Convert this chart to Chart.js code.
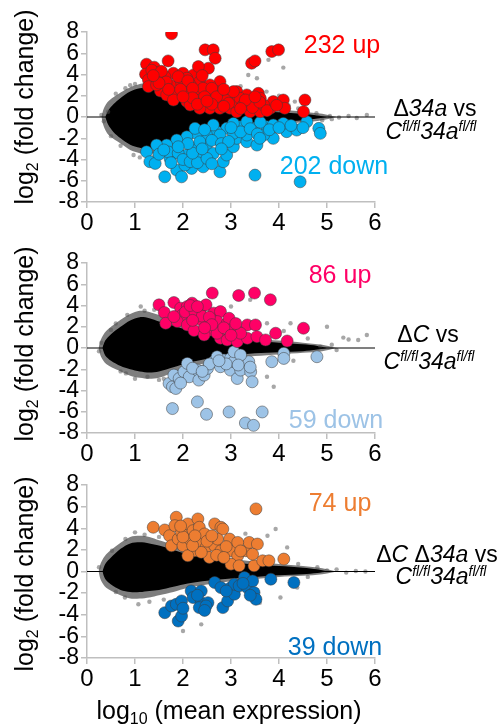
<!DOCTYPE html>
<html>
<head>
<meta charset="utf-8">
<script src="https://cdn.jsdelivr.net/npm/chart.js@4.4.1/dist/chart.umd.min.js"></script>
<style>
  html, body { margin: 0; padding: 0; background: #fff; }
  body { width: 502px; height: 727px; position: relative; overflow: hidden;
         font-family: "Liberation Sans", Arial, sans-serif; color: #000; }
  .panel { position: absolute; left: 0; width: 502px; }
  .lbl { position: absolute; transform: translate(-50%, -50%); white-space: nowrap; line-height: 1; }
  .ytitle { position: absolute; left: 24px; transform: translate(-50%, -50%) rotate(-90deg);
            white-space: nowrap; font-size: 25px; line-height: 1; }
  .count { font-size: 25px; }
  .cmp { font-size: 23px; }
  .cmp sup { font-size: 14px; position: relative; top: -1px; vertical-align: top; }
  sub { font-size: 16px; vertical-align: -5px; line-height: 0; }
</style>
</head>
<body>
<div class="panel" style="top:0;height:240px"><canvas id="c1" width="502" height="240"></canvas></div>
<div class="panel" style="top:231px;height:240px"><canvas id="c2" width="502" height="240"></canvas></div>
<div class="panel" style="top:453px;height:274px"><canvas id="c3" width="502" height="274"></canvas></div>

<div class="ytitle" style="top:107px">log<sub>2</sub> (fold change)</div>
<div class="ytitle" style="top:344px">log<sub>2</sub> (fold change)</div>
<div class="ytitle" style="top:574px">log<sub>2</sub> (fold change)</div>
<div class="lbl" style="left:229px;top:710px;font-size:25px">log<sub>10</sub> (mean expression)</div>

<div class="lbl count" style="left:342px;top:44px;color:#ff0000">232 up</div>
<div class="lbl count" style="left:334px;top:165px;color:#00b0f0">202 down</div>
<div class="lbl count" style="left:340px;top:274px;color:#ff0066">86 up</div>
<div class="lbl count" style="left:336px;top:419px;color:#9dc3e6">59 down</div>
<div class="lbl count" style="left:340px;top:502px;color:#ed7d31">74 up</div>
<div class="lbl count" style="left:335px;top:646px;color:#0070c0">39 down</div>

<div class="lbl cmp" style="left:435px;top:108px">&Delta;<i>34a</i> vs</div>
<div class="lbl cmp" style="left:431px;top:131px"><i>C<sup>fl/fl</sup>34a<sup>fl/fl</sup></i></div>
<div class="lbl cmp" style="left:428px;top:334px">&Delta;<i>C</i> vs</div>
<div class="lbl cmp" style="left:429px;top:361px"><i>C<sup>fl/fl</sup>34a<sup>fl/fl</sup></i></div>
<div class="lbl cmp" style="left:437px;top:554px">&Delta;<i>C</i> &Delta;<i>34a</i> vs</div>
<div class="lbl cmp" style="left:441px;top:576px"><i>C<sup>fl/fl</sup>34a<sup>fl/fl</sup></i></div>

<script>
// axis ticks
const xTicks = [0, 1, 2, 3, 4, 5, 6];
const yTicks = [-8, -6, -4, -2, 0, 2, 4, 6, 8];

// ---- panel 1: delta34a vs Cfl/fl 34afl/fl ----
const p1CoreX = [0.38, 0.44, 0.55, 0.7, 0.9, 1.1, 1.3, 1.5, 1.8, 2.1, 2.5, 3.0, 3.5, 4.0, 4.5, 4.8, 5.0];
const p1CoreUp = [0, 0.6, 1.2, 1.8, 2.4, 2.7, 2.8, 2.7, 2.3, 1.9, 1.4, 0.9, 0.6, 0.45, 0.3, 0.15, 0];
const p1CoreLo = [0, -0.7, -1.4, -2.0, -2.6, -2.9, -3.0, -2.8, -2.3, -1.8, -1.3, -0.8, -0.6, -0.45, -0.3, -0.15, 0];
const p1FringeX = [0.3, 0.35, 0.45, 0.7, 0.9, 1.1, 1.3, 1.5, 1.8, 2.1, 2.5, 3.0, 3.5, 4.0, 4.5, 4.9, 5.2];
const p1FringeUp = [0, 0.8, 1.5, 2.3, 2.8, 3.1, 3.3, 3.2, 2.8, 2.3, 1.8, 1.2, 0.9, 0.7, 0.5, 0.3, 0];
const p1FringeLo = [0, -0.9, -1.7, -2.5, -3.1, -3.4, -3.5, -3.3, -2.8, -2.2, -1.6, -1.1, -0.8, -0.65, -0.5, -0.3, 0];
const p1Grey = [
  [3.78, 5.38], [4.09, 4.65], [3.36, 3.96], [3.54, 3.65], [4.33, 1.45], [4.78, 0.35],
  [5.06, 0.1], [5.25, -0.05], [5.45, 0.1], [5.62, -0.1], [5.83, 0.2], [0.97, -3.58],
  [2.77, -4.53], [0.44, 0.5], [3.74, 2.39], [1.2, 3.7], [0.8, 2.7], [1.1, -3.8],
  [3.2, 2.9], [4.0, 2.0], [3.9, -1.5], [2.6, -4.2], [0.35, -0.4], [4.6, -0.6],
  [0.6, 2.2], [0.5, -1.8], [1.4, -3.7], [1.0, 3.1], [4.4, 0.8], [4.9, -0.3],
  [0.3, 0.2], [0.7, -2.7], [1.3, -3.9], [0.9, 3.0], [4.2, 1.1], [5.1, -0.2]
];
const p1Up = [
  [1.76, 7.83], [1.69, 5.28], [1.24, 4.97], [1.40, 4.69], [1.22, 4.03], [1.45, 4.18],
  [1.28, 3.49], [1.52, 3.65], [1.28, 2.86], [1.53, 2.45], [1.80, 4.12], [2.00, 4.12],
  [2.22, 3.96], [2.35, 3.33], [2.46, 6.32], [2.63, 6.32], [2.67, 5.53], [2.53, 4.59],
  [2.32, 4.75], [2.77, 3.33], [2.56, 3.02], [2.15, 3.02], [1.94, 3.33], [1.73, 3.02],
  [1.66, 2.08], [1.87, 2.23], [2.08, 2.08], [2.28, 2.39], [2.49, 2.23], [2.70, 2.39],
  [2.91, 2.08], [3.12, 2.39], [3.33, 2.08], [3.57, 2.23], [3.43, 5.06], [3.50, 5.28],
  [3.85, 6.16], [3.99, 6.32], [1.80, 1.60], [2.08, 1.45], [2.35, 1.60], [2.56, 0.82],
  [2.77, 0.82], [2.98, 0.82], [3.12, 0.50], [3.40, 0.50], [3.61, 0.50], [3.82, 0.82],
  [3.88, 1.45], [4.09, 1.60], [4.12, 0.82], [4.54, 1.60], [4.51, 0.50], [3.05, 1.45],
  [3.33, 1.29], [2.77, 1.45], [2.35, 0.82], [2.15, 1.13], [2.91, 1.60], [3.19, 1.76],
  [3.47, 1.45], [3.68, 1.13], [3.61, 1.76], [3.05, 2.39], [1.45, 3.02], [1.62, 3.80],
  [2.08, 3.65], [2.42, 2.70], [2.63, 1.76], [1.35, 4.40], [1.55, 4.30], [1.65, 3.30],
  [1.90, 3.80], [2.10, 3.40], [2.20, 2.70], [2.40, 3.90], [2.60, 2.70], [2.45, 1.90],
  [2.70, 1.90], [2.85, 2.60], [2.95, 1.30], [3.25, 1.10], [3.45, 0.90], [3.60, 1.40],
  [3.75, 0.60], [3.95, 1.10], [2.20, 1.80], [1.95, 2.60], [1.70, 2.60], [1.50, 3.20],
  [2.00, 1.90], [2.30, 1.20], [2.60, 1.20], [2.85, 1.00], [3.30, 1.60], [3.50, 1.90],
  [3.20, 0.80], [2.50, 1.50], [1.38, 3.90]
];
const p1Down = [
  [1.24, -3.27], [1.31, -4.21], [1.42, -4.37], [1.59, -2.96], [1.62, -5.63], [1.87, -5.00],
  [1.97, -5.63], [2.18, -4.84], [2.42, -4.69], [2.04, -4.53], [1.73, -3.90], [1.80, -2.96],
  [1.97, -2.33], [2.08, -3.58], [2.22, -2.96], [2.35, -3.74], [2.49, -2.64], [2.63, -3.43],
  [2.77, -5.16], [2.84, -4.21], [2.91, -3.58], [3.05, -2.80], [3.12, -2.01], [3.33, -2.33],
  [3.54, -2.64], [3.50, -5.47], [4.44, -6.10], [3.88, -2.01], [4.16, -1.38], [4.37, -1.23],
  [4.58, -0.44], [4.83, -1.07], [4.86, -1.54], [4.09, -0.60], [3.74, -0.91], [3.47, -1.07],
  [3.19, -0.91], [2.91, -1.07], [2.70, -1.38], [2.49, -1.70], [2.28, -1.54], [2.08, -1.86],
  [1.87, -2.17], [1.66, -2.64], [2.63, -0.75], [3.05, -0.60], [3.33, -0.44], [3.61, -0.50],
  [3.88, -0.75], [2.35, -2.33], [2.77, -1.70], [3.05, -1.54], [3.68, -1.70], [3.33, -1.70],
  [2.25, -1.07], [1.45, -2.64], [1.50, -3.50], [1.70, -3.30], [1.90, -3.40], [2.00, -4.00],
  [2.15, -4.20], [2.30, -4.30], [2.50, -3.90], [2.20, -3.40], [2.40, -3.00], [2.60, -2.20],
  [2.80, -2.50], [2.95, -2.30], [3.20, -1.40], [3.40, -1.10], [3.55, -1.60], [3.80, -1.20],
  [4.00, -1.00], [4.25, -0.80], [4.50, -1.00], [2.45, -1.20], [2.10, -2.50], [1.90, -2.80],
  [1.60, -3.10], [3.00, -1.00], [3.60, -2.00], [2.80, -3.00], [1.75, -4.30], [2.60, -4.40]
];

// ---- panel 2: deltaC vs Cfl/fl 34afl/fl ----
const p2CoreX = [0.32, 0.38, 0.5, 0.7, 0.9, 1.1, 1.3, 1.5, 1.8, 2.1, 2.5, 3.0, 3.5, 4.0, 4.5, 4.8, 5.0];
const p2CoreUp = [0, 0.7, 1.3, 2.0, 2.6, 2.9, 2.8, 2.5, 2.1, 1.7, 1.3, 0.9, 0.65, 0.5, 0.35, 0.2, 0];
const p2CoreLo = [0, -0.7, -1.2, -1.7, -2.0, -2.2, -2.3, -2.2, -1.8, -1.4, -1.0, -0.7, -0.5, -0.4, -0.3, -0.15, 0];
const p2FringeX = [0.24, 0.29, 0.4, 0.65, 0.9, 1.1, 1.3, 1.5, 1.8, 2.1, 2.5, 3.0, 3.5, 4.0, 4.5, 4.9, 5.2];
const p2FringeUp = [0, 0.8, 1.6, 2.5, 3.2, 3.5, 3.4, 3.1, 2.6, 2.2, 1.7, 1.2, 0.9, 0.7, 0.5, 0.3, 0];
const p2FringeLo = [0, -0.8, -1.5, -2.1, -2.6, -2.8, -2.9, -2.8, -2.3, -1.8, -1.4, -1.0, -0.75, -0.6, -0.45, -0.3, 0];
const p2Grey = [
  [0.84, 3.12], [1.12, 3.91], [0.50, 1.70], [0.81, -2.39], [1.26, -2.71], [3.89, -3.65],
  [3.75, -2.71], [5.00, 2.00], [5.34, 0.98], [5.65, 0.76], [5.83, 1.23], [5.20, -0.19],
  [3.40, 4.54], [3.75, 2.33], [4.24, 2.33], [4.86, 0.13], [5.45, 0.8], [1.4, 3.6],
  [0.3, 0.5], [2.3, -2.9], [4.3, -1.2], [3.0, 3.9], [1.0, -2.9], [4.6, 0.9],
  [0.6, 2.3], [1.6, -2.9], [4.1, 1.6], [5.1, 0.3], [0.7, -2.2], [1.2, 3.5],
  [1.5, -3.0], [0.25, -0.3]
];
const p2Up = [
  [1.50, 4.06], [1.61, 3.34], [1.64, 2.33], [1.81, 4.28], [1.95, 3.75], [1.99, 3.12],
  [1.88, 2.49], [2.09, 3.91], [2.19, 4.22], [2.09, 2.17], [2.23, 1.64], [2.30, 3.12],
  [2.37, 3.75], [2.48, 4.06], [2.47, 2.33], [2.57, 1.70], [2.61, 5.17], [2.64, 3.28],
  [2.78, 3.43], [2.71, 2.49], [2.78, 0.91], [2.92, 2.33], [2.96, 2.80], [2.99, 1.70],
  [2.92, 0.76], [3.13, 0.60], [3.16, 4.94], [3.16, 1.54], [3.34, 2.17], [3.51, 2.17],
  [3.49, 5.17], [3.82, 4.54], [3.34, 0.91], [3.54, 1.07], [3.72, 0.76], [3.93, 1.39],
  [4.17, 0.66], [4.51, 1.86], [2.44, 1.23], [2.71, 1.39], [3.20, 1.39], [2.37, 2.65],
  [1.81, 2.96], [2.05, 3.40], [2.25, 3.40], [2.40, 3.00], [2.55, 2.90], [2.60, 2.20],
  [2.85, 1.90], [2.45, 1.90], [2.20, 2.60], [3.00, 1.20], [3.10, 2.30], [2.15, 4.00],
  [2.30, 3.90]
];
const p2Down = [
  [1.71, -3.34], [1.78, -3.65], [1.85, -3.81], [1.81, -2.55], [1.92, -2.87], [2.02, -2.24],
  [2.09, -1.45], [2.13, -2.71], [2.30, -2.08], [2.33, -3.02], [2.44, -2.55], [2.51, -1.92],
  [2.64, -1.29], [2.78, -1.76], [2.85, -1.13], [2.99, -0.98], [2.99, -2.08], [3.06, -1.29],
  [3.13, -2.87], [3.20, -2.08], [3.37, -1.29], [3.41, -2.24], [3.44, -3.18], [3.85, -1.29],
  [4.10, -0.50], [4.10, -0.98], [4.79, -0.82], [1.78, -5.70], [2.30, -5.07], [2.49, -6.24],
  [2.96, -6.02], [3.30, -7.06], [3.47, -7.28], [3.65, -6.02], [3.06, -0.35], [3.20, -0.66],
  [2.71, -0.82], [2.20, -1.90], [2.55, -1.50], [2.90, -1.50], [3.15, -1.60], [2.75, -1.20],
  [3.40, -1.80], [1.95, -3.30], [2.40, -2.20]
];

// ---- panel 3: deltaC delta34a vs Cfl/fl 34afl/fl ----
const p3CoreX = [0.32, 0.38, 0.5, 0.7, 0.9, 1.1, 1.3, 1.5, 1.8, 2.1, 2.5, 3.0, 3.5, 4.0, 4.5, 4.8, 5.0];
const p3CoreUp = [0, 0.7, 1.3, 2.1, 2.6, 2.7, 2.6, 2.4, 2.0, 1.6, 1.2, 0.85, 0.65, 0.5, 0.35, 0.2, 0];
const p3CoreLo = [0, -0.7, -1.2, -1.7, -1.9, -1.9, -1.8, -1.7, -1.4, -1.1, -0.85, -0.65, -0.5, -0.35, -0.25, -0.15, 0];
const p3FringeX = [0.24, 0.29, 0.4, 0.65, 0.9, 1.1, 1.3, 1.5, 1.8, 2.1, 2.5, 3.0, 3.5, 4.0, 4.5, 4.9, 5.2];
const p3FringeUp = [0, 0.8, 1.6, 2.5, 3.2, 3.3, 3.2, 2.9, 2.5, 2.1, 1.6, 1.2, 0.9, 0.7, 0.5, 0.3, 0];
const p3FringeLo = [0, -0.8, -1.5, -2.1, -2.5, -2.5, -2.4, -2.2, -1.9, -1.5, -1.2, -0.9, -0.7, -0.5, -0.4, -0.25, 0];
const p3Grey = [
  [3.93, 3.93], [3.76, 3.31], [4.17, 2.23], [2.38, -4.89], [2.00, -5.50], [4.03, -2.41],
  [4.38, -1.49], [1.07, -3.03], [0.79, -2.41], [1.00, 3.62], [0.52, 1.92], [5.0, 0.1],
  [5.2, 0.2], [5.4, -0.1], [5.6, 0.05], [5.8, 0.0], [3.3, 3.5], [2.9, -3.0],
  [1.3, -2.8], [4.6, -0.5], [0.25, 0.4], [3.6, -2.9], [0.6, -1.9], [1.5, 3.2],
  [4.4, 0.7], [1.6, -2.6], [0.8, 3.0], [1.2, 3.4], [1.9, -2.6], [4.8, 0.4]
];
const p3Up = [
  [1.38, 4.09], [1.62, 3.84], [1.72, 3.31], [1.76, 2.38], [1.86, 5.02], [1.83, 4.24],
  [1.90, 3.00], [1.97, 3.62], [2.00, 2.38], [2.10, 4.40], [2.14, 3.00], [2.21, 3.78],
  [2.24, 1.92], [2.31, 4.86], [2.34, 4.09], [2.38, 2.69], [2.45, 3.47], [2.48, 2.23],
  [2.55, 1.30], [2.66, 2.38], [2.66, 4.40], [2.79, 4.09], [2.83, 3.93], [2.97, 3.00],
  [2.79, 1.92], [3.00, 1.92], [3.14, 1.46], [3.00, 0.68], [3.17, 0.53], [3.31, 1.92],
  [3.38, 2.69], [3.52, 5.79], [3.55, 2.54], [3.48, 0.53], [3.66, 0.99], [3.79, 0.99],
  [4.10, 1.15], [3.14, 2.69], [2.72, 3.00], [2.38, 1.77], [2.10, 1.46], [2.00, 3.20],
  [2.20, 2.40], [2.50, 2.80], [2.60, 3.30], [2.90, 2.30], [3.20, 1.90], [2.70, 1.50],
  [1.95, 4.20], [2.25, 3.30], [3.45, 1.60], [2.85, 1.30]
];
const p3Down = [
  [1.62, -3.81], [1.76, -3.19], [1.86, -3.03], [1.90, -4.58], [1.97, -4.12], [1.97, -2.72],
  [2.17, -1.80], [2.21, -2.41], [2.38, -1.80], [2.38, -2.88], [2.34, -3.34], [2.52, -2.88],
  [2.48, -3.19], [2.66, -1.02], [2.79, -1.49], [2.83, -3.34], [2.93, -2.72], [3.00, -1.49],
  [3.07, -2.10], [3.07, -1.18], [3.17, -1.33], [3.28, -0.56], [3.34, -1.49], [3.45, -0.87],
  [3.48, -1.95], [3.52, -2.57], [3.83, -0.71], [4.31, -1.02], [2.00, -3.40], [2.30, -2.20],
  [2.90, -1.80], [3.25, -1.10], [3.40, -2.20], [2.45, -3.60]
];

const axisGrey = "#bfbfbf";
const pts = (arr) => arr.map(([x, y]) => ({ x, y }));
const band = (xs, ys) => xs.map((x, i) => ({ x, y: ys[i] }));

function makePanel(id, p, axisHeight) {
  const edge = { type: "line", pointRadius: 0, borderWidth: 0, tension: 0.3 };
  const dot = (data, color, order) => ({
    type: "scatter", data: pts(data), backgroundColor: color,
    borderColor: "rgba(60,60,60,0.85)", borderWidth: 0.6, pointRadius: 6, order
  });
  new Chart(document.getElementById(id), {
    type: "scatter",
    data: {
      datasets: [
        { ...edge, data: band(p.fringeX, p.fringeLo), fill: false, order: 6 },
        { ...edge, data: band(p.fringeX, p.fringeUp), fill: "-1", backgroundColor: "rgba(20,20,20,0.55)", order: 6 },
        { ...edge, data: band(p.coreX, p.coreLo), fill: false, order: 5 },
        { ...edge, data: band(p.coreX, p.coreUp), fill: "-1", backgroundColor: "#000", order: 5 },
        { type: "scatter", data: pts(p.grey), backgroundColor: "rgba(80,80,80,0.5)", borderWidth: 0, pointRadius: 2.2, order: 4 },
        { type: "line", data: [{ x: 0, y: 0 }, { x: 6, y: 0 }], borderColor: "#000", borderWidth: 1, pointRadius: 0, order: 3 },
        dot(p.down, p.downColor, 2),
        dot(p.up, p.upColor, 1)
      ]
    },
    options: {
      responsive: false,
      animation: false,
      events: [],
      layout: { padding: { top: 32, right: 127, left: 0, bottom: 0 } },
      plugins: { legend: { display: false }, tooltip: { enabled: false } },
      scales: {
        x: {
          type: "linear", min: 0, max: 6,
          afterBuildTicks: (s) => { s.ticks = xTicks.map((v) => ({ value: v })); },
          afterFit: (s) => { s.height = axisHeight; },
          ticks: { color: "#000", autoSkip: false, maxRotation: 0, font: { family: "Liberation Sans", size: 24 }, padding: 1 },
          grid: { drawOnChartArea: false, drawTicks: true, tickLength: 6, color: axisGrey, lineWidth: 1.5 },
          border: { color: axisGrey, width: 1.5 }
        },
        y: {
          type: "linear", min: -8, max: 8,
          afterBuildTicks: (s) => { s.ticks = yTicks.map((v) => ({ value: v })); },
          afterFit: (s) => { s.width = 87; },
          ticks: { color: "#000", autoSkip: false, font: { family: "Liberation Sans", size: 23 }, padding: 2 },
          grid: { drawOnChartArea: false, drawTicks: true, tickLength: 6, color: axisGrey, lineWidth: 1.5 },
          border: { color: axisGrey, width: 1.5 }
        }
      }
    }
  });
}

makePanel("c1", {
  coreX: p1CoreX, coreUp: p1CoreUp, coreLo: p1CoreLo,
  fringeX: p1FringeX, fringeUp: p1FringeUp, fringeLo: p1FringeLo,
  grey: p1Grey, up: p1Up, down: p1Down, upColor: "#ff0000", downColor: "#00b0f0"
}, 38);
makePanel("c2", {
  coreX: p2CoreX, coreUp: p2CoreUp, coreLo: p2CoreLo,
  fringeX: p2FringeX, fringeUp: p2FringeUp, fringeLo: p2FringeLo,
  grey: p2Grey, up: p2Up, down: p2Down, upColor: "#ff0066", downColor: "#9dc3e6"
}, 38);
makePanel("c3", {
  coreX: p3CoreX, coreUp: p3CoreUp, coreLo: p3CoreLo,
  fringeX: p3FringeX, fringeUp: p3FringeUp, fringeLo: p3FringeLo,
  grey: p3Grey, up: p3Up, down: p3Down, upColor: "#ed7d31", downColor: "#0070c0"
}, 69);
</script>
</body>
</html>
